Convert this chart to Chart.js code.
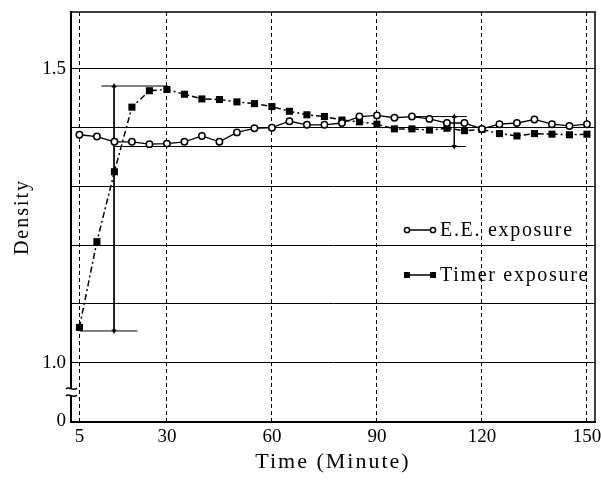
<!DOCTYPE html>
<html>
<head>
<meta charset="utf-8">
<script src="https://cdn.jsdelivr.net/npm/chart.js@4.4.1/dist/chart.umd.min.js"></script>
<style>
  html, body { margin: 0; padding: 0; background: #fff; }
</style>
</head>
<body>
<canvas id="myChart" width="601" height="480"></canvas>
<script>
// minutes after exposure
const times = [5, 10, 15, 20, 25, 30, 35, 40, 45, 50, 55, 60, 65, 70, 75,
  80, 85, 90, 95, 100, 105, 110, 115, 120, 125, 130, 135, 140, 145, 150];

// E.E. exposure (open circles)
const eeDensity = [1.388, 1.385, 1.376, 1.376, 1.372, 1.373, 1.376, 1.386, 1.376, 1.392,
  1.399, 1.400, 1.411, 1.405, 1.405, 1.408, 1.419, 1.421, 1.417, 1.419,
  1.415, 1.408, 1.408, 1.398, 1.406, 1.408, 1.414, 1.406, 1.403, 1.406];

// Timer exposure (filled squares)
const timerDensity = [1.060, 1.206, 1.325, 1.435, 1.463, 1.465, 1.457, 1.449, 1.448, 1.444,
  1.441, 1.436, 1.428, 1.422, 1.419, 1.413, 1.410, 1.406, 1.398, 1.398,
  1.396, 1.399, 1.395, 1.397, 1.390, 1.386, 1.390, 1.389, 1.388, 1.389];

const xTicks = [5, 30, 60, 90, 120, 150];
const yTicks = [0.9, 1.0, 1.1, 1.2, 1.3, 1.4, 1.5];
const yTickLabels = ["0", "1.0", "", "", "", "", "1.5"]; // axis is broken below 1.0

// range brackets (minute, density)
const timerRangeTop = [[11.3, 1.471], [30.3, 1.471]];
const timerRangeBottom = [[5.1, 1.054], [21.6, 1.054]];
const timerRangeSpan = [[14.9, 1.471], [14.9, 1.054]];
const eeRangeTop = [[100, 1.419], [115.7, 1.419]];
const eeRangeBottom = [[14.6, 1.368], [115.4, 1.368]];
const eeRangeSpan = [[112.1, 1.419], [112.1, 1.368]];

const FONT = "'Liberation Serif', 'Times New Roman', serif";

function pts(pairs) {
  return pairs.map((p) => ({ x: p[0], y: p[1] }));
}

function bracket(pairs) {
  return {
    data: pts(pairs),
    borderColor: "#000",
    borderWidth: 1,
    pointRadius: 0,
    fill: false,
    isBracket: true,
  };
}

function arrow(pairs) {
  return {
    data: pts(pairs),
    borderColor: "#000",
    borderWidth: 1,
    pointStyle: "triangle",
    pointRadius: 3,
    pointRotation: [0, 180],
    pointBackgroundColor: "#000",
    pointBorderWidth: 0,
    fill: false,
    isBracket: true,
  };
}

const decor = {
  id: "decor",
  beforeDraw(chart) {
    // wide-set lettering for the axis titles
    chart.ctx.letterSpacing = "2px";
  },
  beforeDatasetsDraw(chart) {
    chart.ctx.letterSpacing = "0px";
  },
  afterDraw(chart) {
    const ctx = chart.ctx;
    const area = chart.chartArea;
    const yScale = chart.scales.y;

    // top and right of the frame
    ctx.save();
    ctx.strokeStyle = "#000";
    ctx.lineWidth = 1.5;
    ctx.beginPath();
    ctx.moveTo(area.left, area.top);
    ctx.lineTo(area.right, area.top);
    ctx.lineTo(area.right, area.bottom);
    ctx.stroke();

    // break mark on the density axis
    const by = yScale.getPixelForValue(0.95);
    ctx.fillStyle = "#fff";
    ctx.fillRect(area.left - 5, by - 4, 11, 8);
    ctx.lineWidth = 1.5;
    [-4, 3].forEach((dy) => {
      ctx.beginPath();
      ctx.moveTo(area.left - 5, by + dy + 1);
      ctx.bezierCurveTo(area.left - 2, by + dy - 3, area.left + 1, by + dy + 4, area.left + 6, by + dy);
      ctx.stroke();
    });

    // legend
    const items = [
      { ds: chart.data.datasets[0], y: 230 },
      { ds: chart.data.datasets[1], y: 275 },
    ];
    ctx.letterSpacing = "1.7px";
    ctx.font = "20px " + FONT;
    ctx.textBaseline = "middle";
    ctx.textAlign = "left";
    items.forEach((item) => {
      const x1 = 407, x2 = 433;
      ctx.strokeStyle = "#000";
      ctx.lineWidth = 1.5;
      ctx.beginPath();
      ctx.moveTo(x1, item.y);
      ctx.lineTo(x2, item.y);
      ctx.stroke();
      [x1, x2].forEach((x) => {
        if (item.ds.pointStyle === "rect") {
          ctx.fillStyle = "#000";
          ctx.fillRect(x - 3, item.y - 3, 6, 6);
        } else {
          ctx.beginPath();
          ctx.arc(x, item.y, 2.6, 0, Math.PI * 2);
          ctx.fillStyle = "#fff";
          ctx.fill();
          ctx.lineWidth = 1.5;
          ctx.stroke();
        }
      });
      ctx.fillStyle = "#000";
      ctx.fillText(item.ds.label, 440, item.y + 1);
    });
    ctx.restore();
  },
};

const ctx = document.getElementById("myChart");

new Chart(ctx, {
  type: "line",
  data: {
    datasets: [
      {
        label: "E.E. exposure",
        data: times.map((t, i) => ({ x: t, y: eeDensity[i] })),
        borderColor: "#000",
        borderWidth: 1.3,
        pointStyle: "circle",
        pointRadius: 3.2,
        pointBorderWidth: 1.5,
        pointBorderColor: "#000",
        pointBackgroundColor: "#fff",
        tension: 0,
      },
      {
        label: "Timer exposure",
        data: times.map((t, i) => ({ x: t, y: timerDensity[i] })),
        borderColor: "#000",
        borderWidth: 1.5,
        borderDash: [6, 3, 2, 3],
        pointStyle: "rect",
        pointRadius: 5,
        pointBorderWidth: 0,
        pointBackgroundColor: "#000",
        tension: 0,
      },
      bracket(timerRangeTop),
      bracket(timerRangeBottom),
      arrow(timerRangeSpan),
      bracket(eeRangeTop),
      bracket(eeRangeBottom),
      arrow(eeRangeSpan),
    ],
  },
  options: {
    responsive: false,
    animation: false,
    layout: { padding: { top: 12, right: 6, bottom: 0, left: 0 } },
    plugins: {
      legend: { display: false },
      tooltip: { enabled: false },
    },
    scales: {
      x: {
        type: "linear",
        min: 2.6,
        max: 152.3,
        afterBuildTicks: (scale) => {
          scale.ticks = xTicks.map((v) => ({ value: v }));
        },
        afterFit: (scale) => {
          scale.height = 58;
          scale.paddingLeft = 0;
          scale.paddingRight = 0;
        },
        grid: { color: "#000", lineWidth: 1, drawTicks: false },
        border: { display: true, color: "#000", width: 2, dash: [4, 3] },
        ticks: {
          z: 1,
          padding: 4,
          color: "#000",
          font: { family: FONT, size: 19 },
          callback: (value) => String(value),
        },
        title: {
          display: true,
          text: "Time (Minute)",
          color: "#000",
          font: { family: FONT, size: 22 },
          padding: { top: 0, bottom: 5 },
        },
      },
      y: {
        type: "linear",
        min: 0.899,
        max: 1.597,
        afterBuildTicks: (scale) => {
          scale.ticks = yTicks.map((v) => ({ value: v }));
        },
        afterFit: (scale) => {
          scale.width = 71;
          scale.paddingTop = 0;
          scale.paddingBottom = 0;
        },
        grid: { color: "#000", lineWidth: 1, drawTicks: false },
        border: { display: true, color: "#000", width: 2 },
        ticks: {
          z: 1,
          padding: 5,
          color: "#000",
          font: { family: FONT, size: 19 },
          callback: (value, index) => yTickLabels[index],
        },
        title: {
          display: true,
          text: "Density",
          color: "#000",
          font: { family: FONT, size: 20 },
          padding: { top: 11, bottom: 0 },
        },
      },
    },
  },
  plugins: [decor],
});
</script>
</body>
</html>
